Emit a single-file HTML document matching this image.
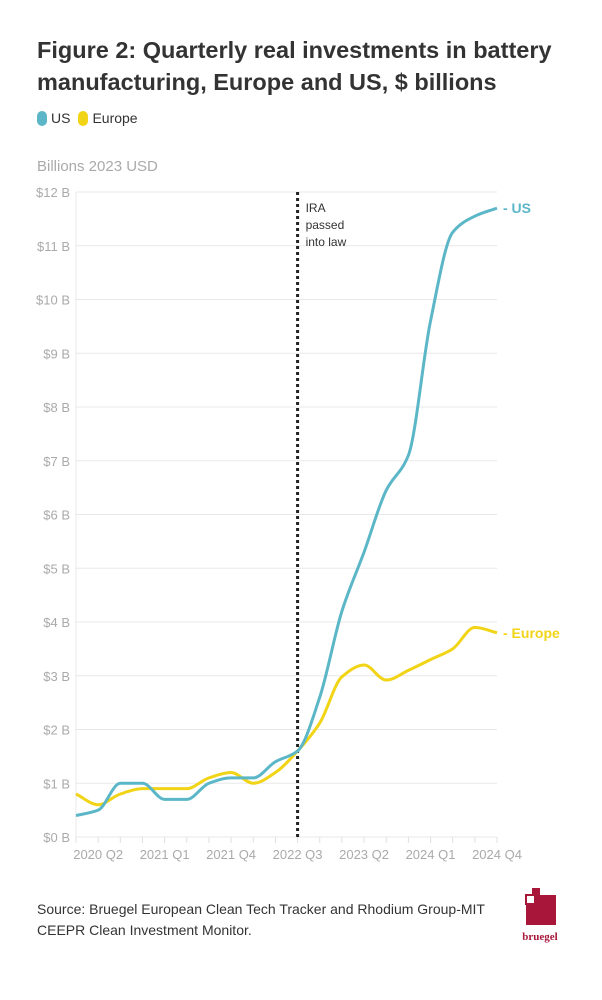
<!DOCTYPE html>
<html><head><meta charset="utf-8">
<style>
body{margin:0;background:#fff;width:602px;height:1000px;overflow:hidden;font-family:"Liberation Sans",sans-serif;}
#title{position:absolute;left:37px;top:34px;width:560px;font-size:23.5px;font-weight:bold;color:#333;line-height:32px;letter-spacing:0px}
#legend{position:absolute;left:37px;top:110px;font-size:14px;color:#333;display:flex;align-items:center}
.sw{display:inline-block;width:10px;height:15px;border-radius:5px;margin-right:4px}
#unit{position:absolute;left:37px;top:158px;font-size:15px;color:#aaa}
#src{position:absolute;left:37px;top:899px;font-size:14px;color:#333;line-height:21px;width:470px}
svg{position:absolute;left:0;top:0}
</style></head><body>
<div id="title">Figure 2: Quarterly real investments in battery manufacturing, Europe and US, $ billions</div>
<div id="legend">
<span class="sw" style="background:#5bb7c7"></span><span style="margin-right:8px">US</span>
<span class="sw" style="background:#f2d417"></span><span>Europe</span>
</div>
<div id="unit">Billions 2023 USD</div>
<svg id="chart" width="602" height="1000"></svg>
<div id="src">Source: Bruegel European Clean Tech Tracker and Rhodium Group-MIT CEEPR Clean Investment Monitor.</div>
<svg width="602" height="1000" style="pointer-events:none">
<rect x="526" y="895" width="30" height="30" fill="#a8173a"/>
<rect x="524" y="893" width="12" height="12" fill="#fff"/>
<rect x="526" y="895" width="9" height="9" fill="none" stroke="#a8173a" stroke-width="2"/>
<rect x="532" y="888" width="8" height="8" fill="#a8173a"/>
<text x="540" y="940" font-family="Liberation Serif,serif" font-size="11" font-weight="bold" fill="#a8173a" text-anchor="middle">bruegel</text>
</svg>
<script>
const categories=["2020 Q1","2020 Q2","2020 Q3","2020 Q4","2021 Q1","2021 Q2","2021 Q3","2021 Q4","2022 Q1","2022 Q2","2022 Q3","2022 Q4","2023 Q1","2023 Q2","2023 Q3","2023 Q4","2024 Q1","2024 Q2","2024 Q3","2024 Q4"];
const usValues=[0.4,0.5,1.0,1.0,0.7,0.7,1.0,1.1,1.1,1.4,1.6,2.6,4.2,5.3,6.45,7.1,9.6,11.25,11.55,11.7];
const europeValues=[0.8,0.6,0.8,0.9,0.9,0.9,1.1,1.2,1.0,1.2,1.6,2.12,2.98,3.2,2.92,3.1,3.3,3.5,3.9,3.8];
const yTicks=[0,1,2,3,4,5,6,7,8,9,10,11,12];
const xTickLabels=["2020 Q2","2021 Q1","2021 Q4","2022 Q3","2023 Q2","2024 Q1","2024 Q4"];
const eventCategory="2022 Q3";
const NS="http://www.w3.org/2000/svg";
const svg=document.getElementById('chart');
const x0=76,x1=497,y0=837,y1=192;
const xs=i=>x0+i*(x1-x0)/(categories.length-1);
const ys=v=>y0-v*(y0-y1)/12;
function mk(t,a,p){const e=document.createElementNS(NS,t);for(const k in a)e.setAttribute(k,a[k]);(p||svg).appendChild(e);return e;}
yTicks.forEach(v=>{
 const l=mk('line',{x1:x0,x2:x1,y1:ys(v),y2:ys(v),stroke:'#e8e8e8','stroke-width':1});
 
 
 const t=mk('text',{x:x0-6,y:ys(v)+5,'text-anchor':'end','font-size':13,fill:'#aaa','font-family':'Liberation Sans,sans-serif'});
 t.textContent='$'+v+' B';
 
 
});
const ax=mk('line',{x1:x0,x2:x0,y1:y1,y2:y0,stroke:'#e8e8e8'});


categories.forEach((c,i)=>{
 const tk=mk('line',{x1:xs(i),x2:xs(i),y1:y0,y2:y0+6,stroke:'#e0e0e0'});
 
 
 if(xTickLabels.includes(c)){
  const t=mk('text',{x:xs(i),y:y0+22,'text-anchor':'middle','font-size':13,fill:'#aaa','font-family':'Liberation Sans,sans-serif'});
  t.textContent=c;
  
  
 }
});
const ei=categories.indexOf(eventCategory);
const ev=mk('line',{x1:xs(ei),x2:xs(ei),y1:y1,y2:y0,stroke:'#222','stroke-width':3,'stroke-dasharray':'3,3'});


["IRA","passed","into law"].forEach((s,k)=>{
 const t=mk('text',{x:xs(ei)+8,y:y1+20+k*17,'font-size':12,fill:'#333','font-family':'Liberation Sans,sans-serif'});
 t.textContent=s;
 
 
});
function monotone(pts){
 const n=pts.length,d=[],m=[];
 for(let i=0;i<n-1;i++)d.push((pts[i+1][1]-pts[i][1])/(pts[i+1][0]-pts[i][0]));
 for(let i=0;i<n;i++){
  if(i==0)m.push(d[0]);else if(i==n-1)m.push(d[n-2]);
  else m.push(d[i-1]*d[i]<=0?0:2/(1/d[i-1]+1/d[i]));
 }
 let s='M'+pts[0][0]+','+pts[0][1];
 for(let i=0;i<n-1;i++){
  const h=(pts[i+1][0]-pts[i][0])/3;
  s+=` C${pts[i][0]+h},${pts[i][1]+m[i]*h} ${pts[i+1][0]-h},${pts[i+1][1]-m[i+1]*h} ${pts[i+1][0]},${pts[i+1][1]}`;
 }
 return s;
}
function series(vals,color,name,label){
 const p=mk('path',{d:monotone(vals.map((v,i)=>[xs(i),ys(v)])),fill:'none',stroke:color,'stroke-width':3,'stroke-linejoin':'round'});
 
 
 const last=vals[vals.length-1];
 const t=mk('text',{x:x1+6,y:ys(last)+5,'font-size':14,'font-weight':'bold',fill:color,'font-family':'Liberation Sans,sans-serif'});
 t.textContent='- '+label;
 
 
}
series(europeValues,'#f2d417','europe','Europe');
series(usValues,'#5bb7c7','us','US');
</script>
</body></html>
